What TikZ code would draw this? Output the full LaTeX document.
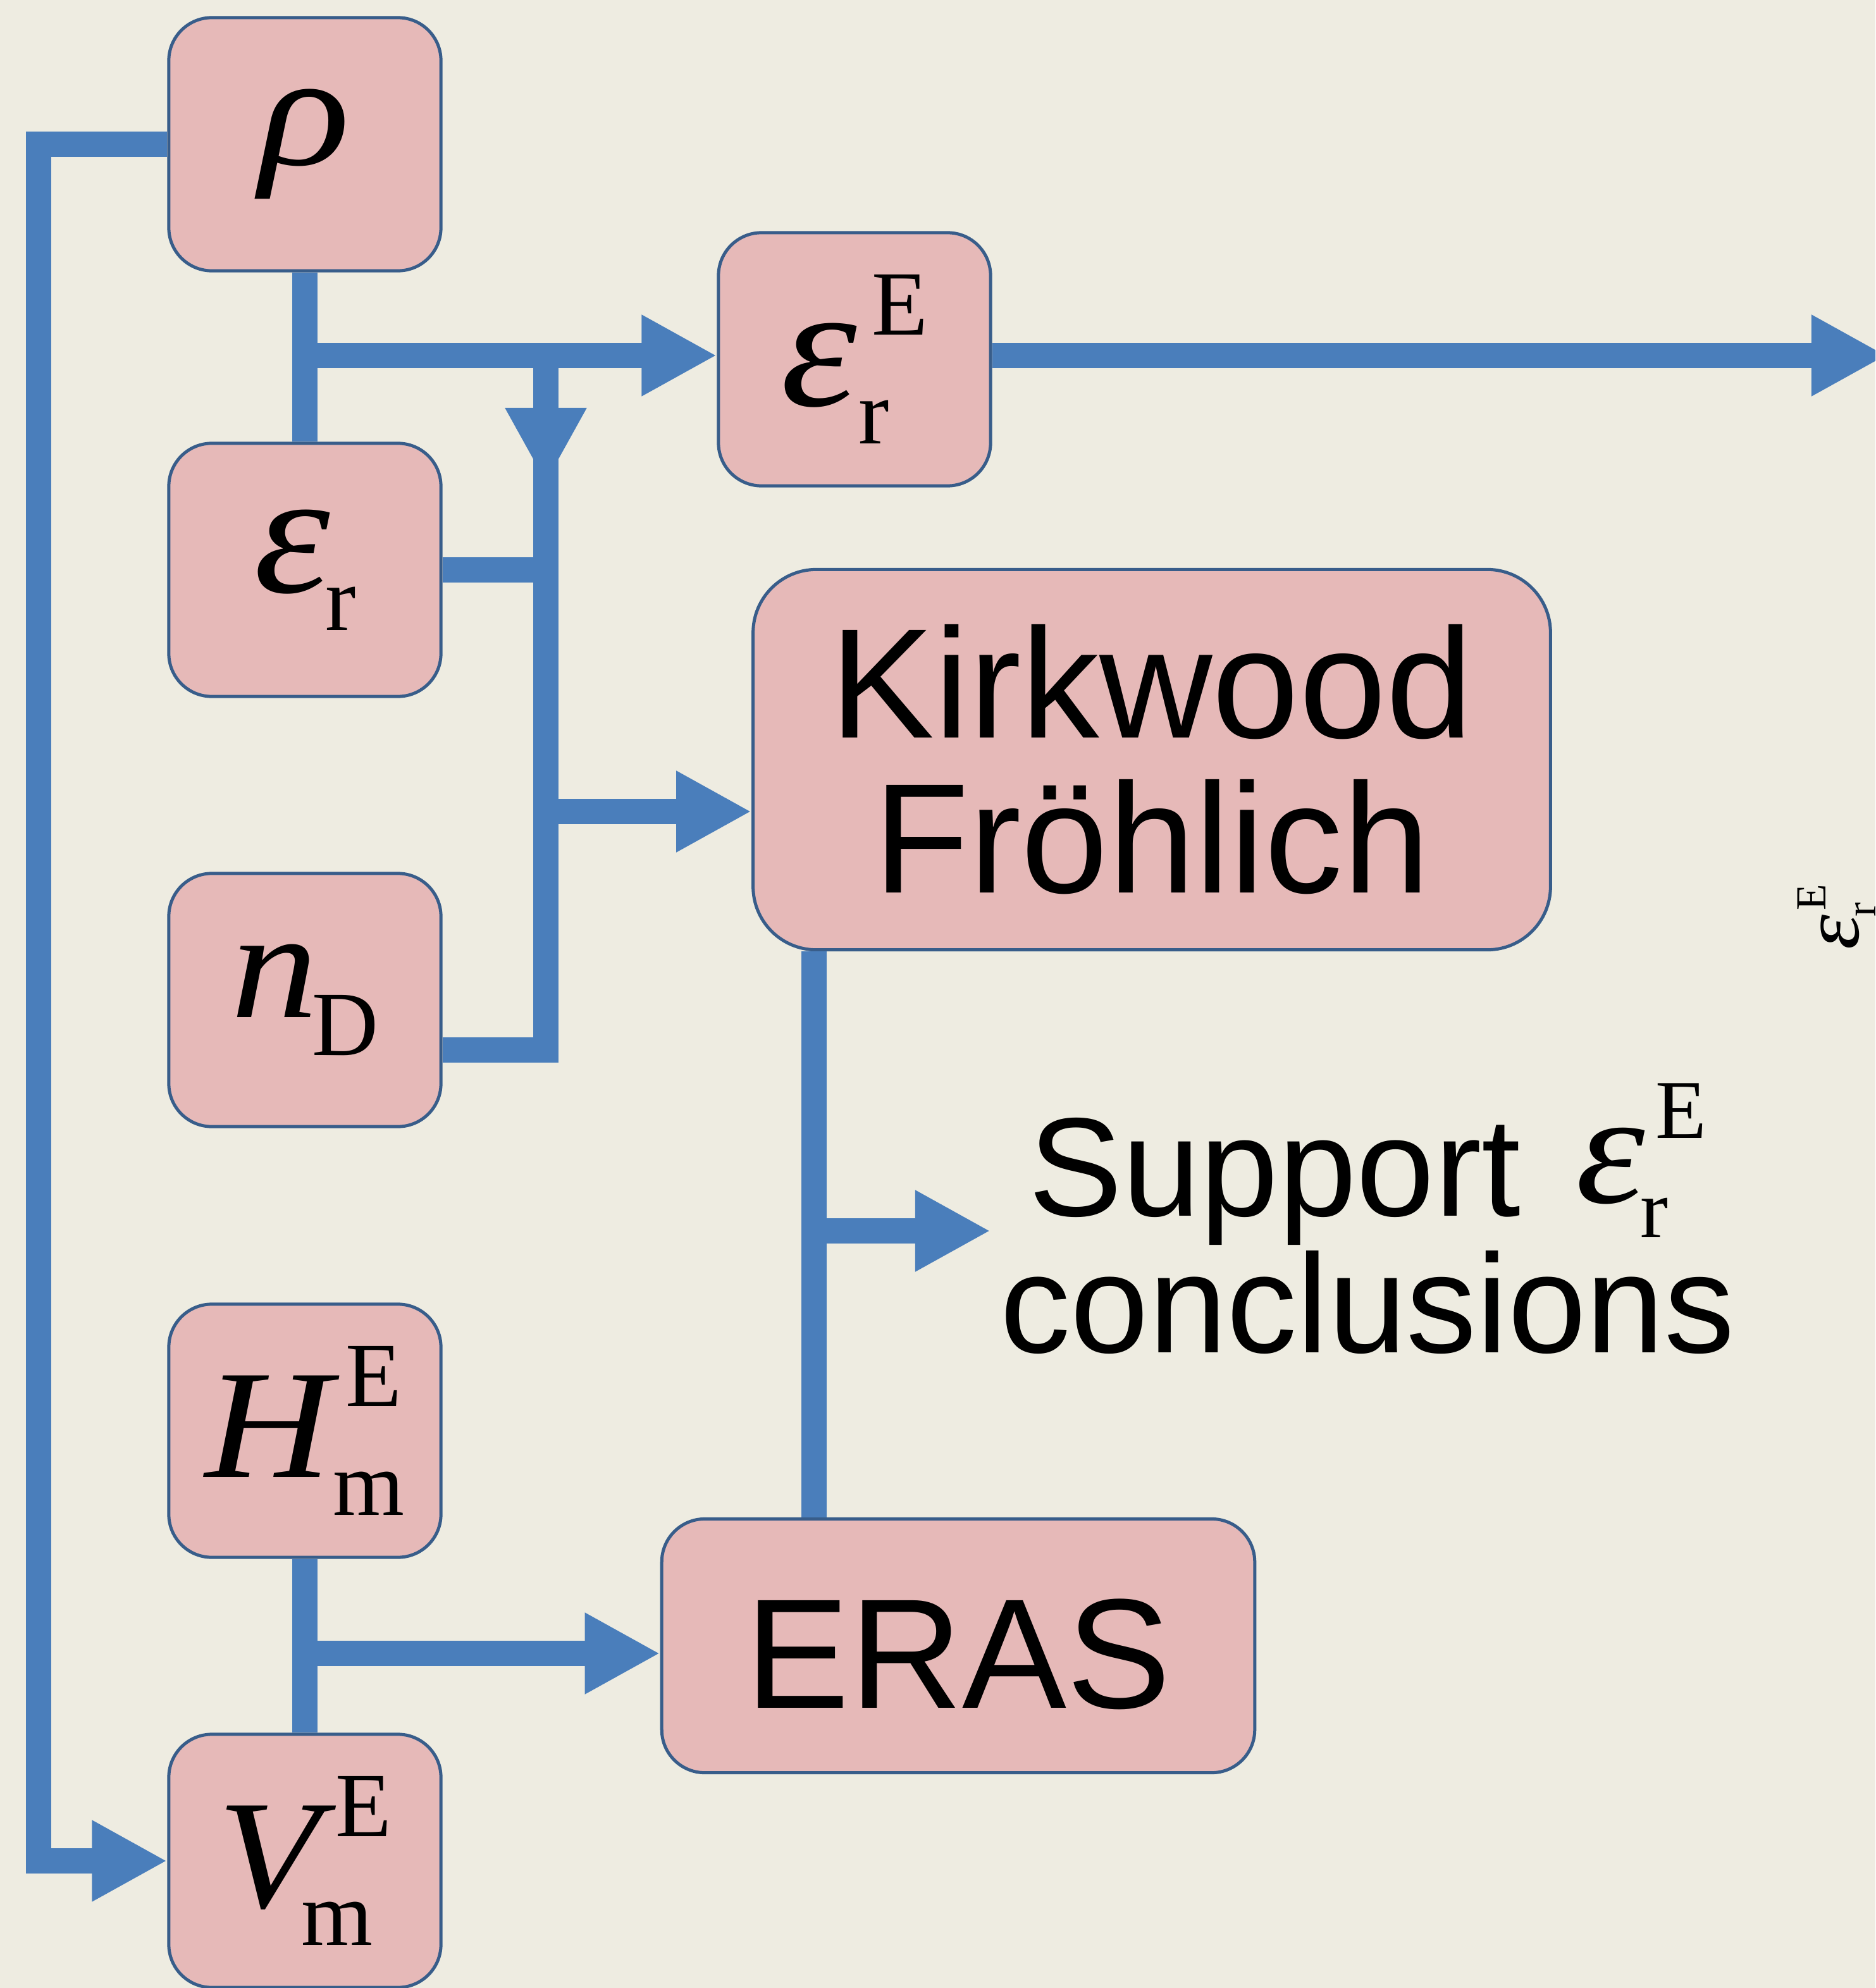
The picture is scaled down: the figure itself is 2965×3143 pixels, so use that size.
\documentclass[tikz,border=0pt]{standalone}
\usepackage{fontspec}
\usepackage{graphicx}
\setmainfont{Liberation Serif}
\newfontfamily\tms{Liberation Serif}
\newfontfamily\ars{Liberation Sans}
\usetikzlibrary{arrows.meta}
\definecolor{bgc}{HTML}{EEECE1}
\definecolor{boxfill}{HTML}{E6B9B8}
\definecolor{boxline}{HTML}{385D8A}
\definecolor{wireblue}{HTML}{4A7EBB}
% #1 main, #2 sup, #3 sub, #4 sup kern (em), #5 sub kern (em), #6 script size (pt)
\newcommand\symA[6]{\begingroup
 \tms\itshape #1%
 \setbox0=\hbox{\kern#4em\raise0.46em\hbox{\upshape\fontsize{#6}{#6}\selectfont #2}}%
 \setbox2=\hbox{\kern#5em\lower0.245em\hbox{\upshape\fontsize{#6}{#6}\selectfont #3}}%
 \ifdim\wd0>\wd2 \rlap{\box2}\box0 \else\rlap{\box0}\box2 \fi
 \endgroup}
\newcommand\eps{\scalebox{1.25}[1.13]{ε}}
\newcommand\bsym{\tms\itshape\fontsize{69.7}{69.7}\selectfont}
\tikzset{
 box/.style={draw=boxline, fill=boxfill, line width=0.05cm, rounded corners=0.68cm,
   minimum width=4.3cm, minimum height=4cm, inner sep=0pt, font=\bsym},
 wire/.style={draw=wireblue, line width=0.4cm},
 arr/.style={wire, -{Triangle[width=1.2cm,length=1.19cm]}},
}
\begin{document}
\begin{tikzpicture}[x=0.01cm,y=-0.01cm]
\useasboundingbox (0,0) rectangle (2965,3143);
\clip (0,0) rectangle (2965,3143);
\fill[bgc] (0,0) rectangle (2965,3143);

% boxes
\node[box] (rho) at (482,228) {\scalebox{1.22}[1.04]{ρ}};
\node[box] (er) at (482,901) {\symA{\eps}{}{r}{0}{-0.03}{41.3}};
\node[box] (nD) at (482,1581) {\symA{\scalebox{1.12}[1]{n}}{}{D}{0}{-0.04}{41.3}};
\node[box] (HE) at (482,2262) {\symA{\scalebox{1.13}[1]{H}}{E}{m}{0.09}{0.01}{41.3}};
\node[box] (VE) at (482,2942) {\symA{\scalebox{1.08}[1]{V}}{E}{m}{0.1}{-0.12}{41.3}};
\node[box] (erE) at (1351,568) {\symA{\eps}{E}{r}{0.095}{0.01}{41.3}};
\node[box, minimum width=12.6cm, minimum height=6.01cm, rounded corners=1cm,
  font=\ars\fontsize{70.3}{69.7}\selectfont, align=center] (KF) at (1821,1201) {Kirkwood\\Fröhlich};
\node[box, minimum width=9.37cm, minimum height=4.01cm,
  font=\ars\fontsize{70.3}{70.3}\selectfont] (ERAS) at (1515,2602) {\raisebox{-0.13cm}[\height][\depth]{ERAS}};
\node[font=\ars\fontsize{63.2}{61.5}\selectfont, align=center, inner sep=0pt] (sup) at (2162,1927)
  {Support\hspace{0.39em}\raisebox{0.21cm}{\symA{\eps}{E}{r}{0.075}{-0.03}{37.6}}\hspace{0.09em}\\conclusions};
\node[rotate=90, anchor=base west, inner sep=0pt, font=\fontsize{31.9}{31.9}\selectfont] (lab)
  at (2938,1502) {\symA{\eps}{E}{r}{0.06}{-0.03}{19.3}};

% connectors
\coordinate (fbx) at (61,0);
\draw[arr] (rho.west) -- (rho.west -| fbx) -- (VE.west -| fbx) -- (VE.west);
\draw[wire] (rho.south) -- (er.north);
\coordinate (j1) at (482,562);
\draw[arr] (j1) -- (j1 -| erE.west);
\coordinate (outE) at (2983,562);
\draw[arr] (j1 -| erE.east) -- (outE);
\coordinate (btop) at (863,562);
\coordinate (btip) at (863,764);
\coordinate (bbot) at (863,1660);
\draw[wire] (btop) -- (bbot) -- (bbot -| nD.east);
\draw[arr] (btop) -- (btip);
\draw[wire] (er.east) -- (er.east -| btop);
\coordinate (kfj) at (863,1283);
\draw[arr] (kfj) -- (kfj -| KF.west);
\coordinate (kx) at (1287,0);
\draw[wire] (kx |- KF.south) -- (kx |- ERAS.north);
\coordinate (sj) at (1287,1946);
\coordinate (supin) at (1566,1946);
\draw[arr] (sj) -- (supin);
\draw[wire] (HE.south) -- (VE.north);
\coordinate (ej) at (482,2614);
\draw[arr] (ej) -- (ej -| ERAS.west);
\end{tikzpicture}
\end{document}
